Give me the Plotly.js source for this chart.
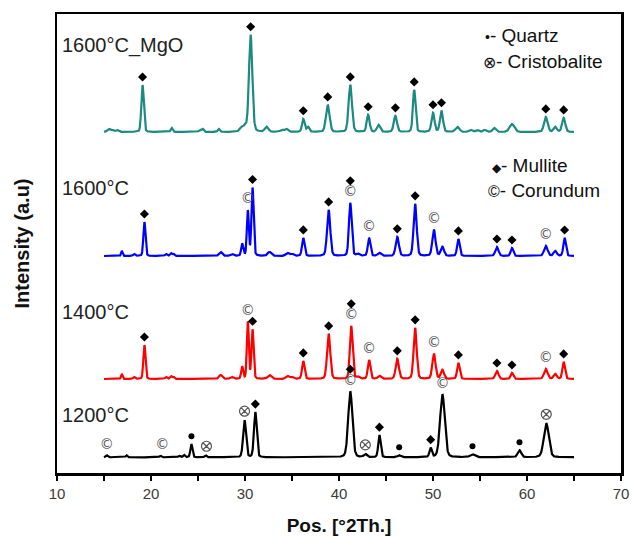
<!DOCTYPE html>
<html><head><meta charset="utf-8">
<script src="https://cdn.plot.ly/plotly-3.0.1.min.js"></script>
<style>html,body{margin:0;padding:0;background:#fff}</style>
</head><body><div id="chart" style="width:632px;height:536px"></div>
<script>
// ---------- data ----------
const tickVals = [10,15,20,25,30,35,40,45,50,55,60,65,70];
const tickText = ['10','','20','','30','','40','','50','','60','','70'];
const sampleNames = ['1200°C','1400°C','1600°C','1600°C_MgO'];

// 1200°C (black) peaks: position (°2θ), height, FWHM
const pos1200 = [15.3,17.4,21.0,23.0,23.5,24.3,25.8,29.95,31.1,41.2,42.8,44.3,46.4,49.75,51.0,54.2,59.2,62.05];
const h1200   = [2,2,1.5,1.5,2.5,13,2,37,45,66,3,22,2,9,63,3,7,34];
const w1200   = [0.25,0.2,0.25,0.25,0.25,0.26,0.25,0.36,0.34,0.52,0.4,0.3,0.4,0.3,0.58,0.6,0.45,0.62];

// 1400°C (red)
const pos1400 = [16.9,18.2,19.3,21.6,22.1,22.4,27.4,28.6,29.7,30.3,30.8,32.6,34.5,35.0,36.2,38.9,41.3,42.0,43.2,44.3,46.2,48.1,50.1,51.0,52.7,56.8,58.4,62.0,63.0,63.9];
const h1400   = [5,2,34,2,3,2,4,2,12,57,49,4,3,2,18,45,53,2,19,3,20,51,25,9,16,8,6,10,5,17];
const w1400   = [0.2,0.25,0.26,0.25,0.25,0.25,0.4,0.4,0.25,0.24,0.26,0.45,0.4,0.4,0.32,0.4,0.34,0.4,0.32,0.4,0.4,0.38,0.4,0.4,0.32,0.4,0.32,0.45,0.4,0.32];

// 1600°C (blue)
const pos1600 = [16.9,18.2,19.3,21.6,22.1,22.4,27.4,28.6,29.7,30.3,30.8,32.6,34.5,35.0,36.2,38.9,41.2,42.0,43.2,44.3,46.2,48.1,50.1,51.0,52.7,56.8,58.4,62.0,63.0,64.0];
const h1600   = [5,2,34,2,3,2,4,2,12,45,68,4,3,2,18,46,53,2,18,3,19,52,26,9,17,9,8,10,5,18];
const w1600   = [0.2,0.25,0.26,0.25,0.25,0.25,0.4,0.4,0.25,0.24,0.27,0.45,0.4,0.4,0.32,0.4,0.34,0.4,0.32,0.4,0.4,0.38,0.4,0.4,0.32,0.4,0.32,0.45,0.4,0.32];

// 1600°C_MgO (teal)
const posMgO = [15.5,15.9,16.4,19.1,22.2,25.2,25.5,27.2,29.6,30.0,30.6,32.3,33.9,34.4,36.2,36.7,38.8,41.2,43.1,44.2,46.0,48.0,50.0,50.9,52.6,54.0,54.7,55.5,56.5,58.4,62.0,63.0,63.9];
const hMgO   = [3,2,2,47,4,2,3,3,4,5,97,5,2,3,13,5,27,47,17,7,16,42,19,21,5,2,2,2,4,8,15,5,14];
const wMgO   = [0.35,0.35,0.35,0.3,0.25,0.25,0.25,0.25,0.4,0.4,0.42,0.45,0.4,0.4,0.32,0.32,0.45,0.42,0.36,0.4,0.4,0.33,0.38,0.38,0.5,0.4,0.4,0.4,0.4,0.6,0.45,0.4,0.4];

// phase markers (peak positions)
const mull1200 = [31.1,41.2,44.3,49.75];
const cor1200  = [15.3,21.2,41.2,51.0];
const cri1200  = [25.9,29.95,42.8,62.05];
const qtz1200  = [24.3,46.4,54.2,59.2];

const mull1400 = [19.3,30.8,36.2,38.9,41.3,46.2,48.1,52.7,56.8,58.4,63.9];
const cor1400  = [30.3,41.3,43.2,50.1,62.0];

const mull1600 = [19.3,30.8,36.2,38.9,41.2,46.2,48.1,52.7,56.8,58.4,64.0];
const cor1600  = [30.3,41.2,43.2,50.1,62.0];

const mullMgO  = [19.1,30.6,36.2,38.8,41.2,43.1,46.0,48.0,50.0,50.9,62.0,63.9];

// ---------- rendering ----------
const offsets = [15.7, 94, 217, 341];
const colors  = ['#000000','#ff0000','#0000ff','#1b8a80'];

const xs = [];
for (let i = 0; i <= 2500; i++) xs.push(15 + i * 0.02);

function profile(pos, h, w, base) {
  const eta = 0.2;
  return xs.map(x => {
    let s = base;
    for (let k = 0; k < pos.length; k++) {
      const d = (x - pos[k]) / w[k];
      const g = Math.exp(-4 * Math.LN2 * d * d);
      const l = 1 / (1 + 4 * d * d);
      s += h[k] * (eta * l + (1 - eta) * g);
    }
    return s;
  });
}

const ys = [
  profile(pos1200, h1200, w1200, offsets[0]),
  profile(pos1400, h1400, w1400, offsets[1]),
  profile(pos1600, h1600, w1600, offsets[2]),
  profile(posMgO,  hMgO,  wMgO,  offsets[3])
];

function topAt(y, x0) {
  let m = -1e9;
  xs.forEach((x, i) => { if (Math.abs(x - x0) <= 0.2 && y[i] > m) m = y[i]; });
  return m;
}

const traces = [];
ys.forEach((y, i) => traces.push({
  x: xs, y: y, type: 'scatter', mode: 'lines',
  line: {color: colors[i], width: 2.2}, hoverinfo: 'skip', showlegend: false
}));

const mulX = [], mulY = [], corX = [], corY = [], criX = [], criY = [], qtzX = [], qtzY = [];
function addMarks(si, mull, cor, cri, qtz) {
  const y = ys[si];
  (cor || []).forEach(x => { corX.push(x); corY.push(topAt(y, x) + 10); });
  (mull || []).forEach(x => {
    const stacked = (cor || []).some(c => Math.abs(c - x) < 0.2);
    mulX.push(x); mulY.push(topAt(y, x) + (stacked ? 22 : 8));
  });
  (cri || []).forEach(x => { criX.push(x); criY.push(topAt(y, x) + 9); });
  (qtz || []).forEach(x => { qtzX.push(x); qtzY.push(topAt(y, x) + 8); });
}
addMarks(0, mull1200, cor1200, cri1200, qtz1200);
addMarks(1, mull1400, cor1400);
addMarks(2, mull1600, cor1600);
addMarks(3, mullMgO);

traces.push({x: corX, y: corY, type: 'scatter', mode: 'text', text: corX.map(() => '©'),
  textfont: {family: 'DejaVu Sans', size: 14, color: '#555'}, hoverinfo: 'skip', showlegend: false});
traces.push({x: mulX, y: mulY, type: 'scatter', mode: 'markers',
  marker: {symbol: 'diamond', size: 7, color: '#000'}, hoverinfo: 'skip', showlegend: false});
traces.push({x: criX, y: criY, type: 'scatter', mode: 'markers',
  marker: {symbol: 'circle-x-open', size: 10, color: '#555', line: {width: 1.2, color: '#555'}}, hoverinfo: 'skip', showlegend: false});
traces.push({x: qtzX, y: qtzY, type: 'scatter', mode: 'markers',
  marker: {symbol: 'circle', size: 6, color: '#000'}, hoverinfo: 'skip', showlegend: false});

const labelY = [58, 161, 285, 428];
const annotations = sampleNames.map((n, i) => ({
  text: n, xref: 'paper', x: 0.005, xanchor: 'left', y: labelY[i], yref: 'y', yanchor: 'middle',
  showarrow: false, font: {family: 'Liberation Sans, Arial', size: 20, color: '#222'}
}));
const legendTexts = ['<span style="font-size:14px">•</span>- Quartz', '<span style="font-size:16px">⊗</span>- Cristobalite',
                     '<span style="font-size:12px">◆</span>- Mullite', '<span style="font-size:16px">©</span>- Corundum'];
const legX = [0.756, 0.752, 0.768, 0.76];
const legY = [438, 412, 308, 283];
legendTexts.forEach((t, i) => annotations.push({
  text: t, xref: 'paper', x: legX[i], xanchor: 'left', y: legY[i], yref: 'y', yanchor: 'middle',
  showarrow: false, font: {family: 'Liberation Sans, Arial', size: 19, color: '#111'}
}));

const layout = {
  width: 632, height: 536,
  margin: {l: 57, r: 11, t: 14, b: 63},
  paper_bgcolor: '#fff', plot_bgcolor: '#fff',
  showlegend: false,
  font: {family: 'Liberation Sans, Arial'},
  xaxis: {
    range: [10, 70], tickvals: tickVals, ticktext: tickText,
    ticks: 'outside', ticklen: 5, tickwidth: 2, tickcolor: '#000',
    showline: true, linewidth: 2.5, linecolor: '#000', mirror: true,
    showgrid: false, zeroline: false,
    tickfont: {size: 15, color: '#3a3a3a'},
    title: {text: '<b>Pos. [°2Th.]</b>', font: {size: 19, color: '#111'}, standoff: 19}
  },
  yaxis: {
    range: [0, 459], showticklabels: false, ticks: '',
    showline: true, linewidth: 2.5, linecolor: '#000', mirror: true,
    showgrid: false, zeroline: false,
    title: {text: '<b>Intensity (a.u)</b>', font: {size: 20, color: '#111'}, standoff: 20}
  },
  annotations: annotations
};

Plotly.newPlot('chart', traces, layout, {displayModeBar: false, staticPlot: true});
</script></body></html>
